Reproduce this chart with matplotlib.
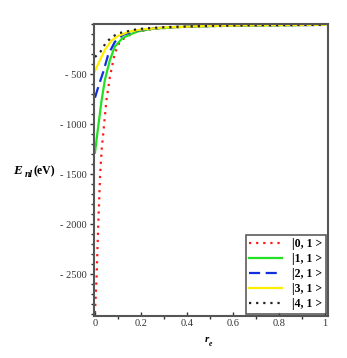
import matplotlib
matplotlib.use("Agg")
import matplotlib.pyplot as plt
from matplotlib.ticker import MultipleLocator

# values (r_e, E_nl in eV)
r_0 = [0.0, 0.007, 0.014, 0.022, 0.029, 0.039, 0.05, 0.065, 0.086, 0.108, 0.136, 0.18, 0.25, 0.35, 0.5, 0.7, 1.0]
e_0 = [-2890, -2527, -2027, -1527, -1260, -1020, -760, -527, -293, -177, -127, -80, -50, -33, -22, -15, -10]

r_1 = [0.0, 0.014, 0.029, 0.043, 0.065, 0.086, 0.12, 0.18, 0.25, 0.35, 0.5, 0.7, 1.0]
e_1 = [-1287, -1027, -760, -560, -360, -227, -140, -77, -48, -32, -21, -14, -9]

r_2 = [0.0, 0.017, 0.036, 0.057, 0.086, 0.12, 0.18, 0.25, 0.35, 0.5, 0.7, 1.0]
e_2 = [-737, -610, -480, -310, -180, -110, -66, -44, -30, -20, -13, -9]

r_3 = [0.0, 0.022, 0.043, 0.07, 0.1, 0.15, 0.2, 0.3, 0.5, 0.7, 1.0]
e_3 = [-470, -360, -260, -170, -120, -75, -55, -35, -19, -13, -8]

r_4 = [0.0, 0.024, 0.046, 0.067, 0.1, 0.136, 0.18, 0.225, 0.3, 0.5, 0.7, 1.0]
e_4 = [-330, -277, -193, -143, -93, -77, -53, -43, -32, -18, -12, -8]

labels = ["|0, 1 >", "|1, 1 >", "|2, 1 >", "|3, 1 >", "|4, 1 >"]
x_ticks = [0, 0.2, 0.4, 0.6, 0.8, 1.0]
x_ticklabels = ["0", "0.2", "0.4", "0.6", "0.8", "1"]
y_ticks = [-2500, -2000, -1500, -1000, -500]
y_ticklabels = ["- 2500", "- 2000", "- 1500", "- 1000", "- 500"]

plt.rcParams["font.family"] = ["Liberation Serif", "DejaVu Serif"]

fig = plt.figure(figsize=(3.47, 3.58), dpi=100)
ax = fig.add_axes([0.271, 0.117, 0.674, 0.816])

ax.plot(r_0, e_0, color="#ff1a1a", linestyle=(0, (1, 2.2)), linewidth=1.6, label=labels[0])
ax.plot(r_1, e_1, color="#22e022", linestyle="-", linewidth=1.6, label=labels[1])
ax.plot(r_2, e_2, color="#1030e0", linestyle=(0, (5, 2.5)), linewidth=1.6, label=labels[2])
ax.plot(r_3, e_3, color="#ffee00", linestyle="-", linewidth=1.6, label=labels[3])
ax.plot(r_4, e_4, color="#222222", linestyle=(0, (1, 2.2)), linewidth=1.6, label=labels[4])

ax.set_xlim(-0.004, 1.012)
ax.set_ylim(-2920, 0)

ax.xaxis.set_minor_locator(MultipleLocator(0.1))
ax.yaxis.set_minor_locator(MultipleLocator(100))
ax.set_xticks(x_ticks)
ax.set_xticklabels(x_ticklabels)
ax.set_yticks(y_ticks)
ax.set_yticklabels(y_ticklabels)

ax.tick_params(axis="both", which="major", labelsize=7.5, length=3, width=1,
               colors="#333333", pad=2)
ax.tick_params(axis="both", which="minor", length=2, width=1, colors="#333333")
ax.tick_params(axis="x", direction="in")

for sp in ax.spines.values():
    sp.set_color("#555555")
    sp.set_linewidth(1.5)

# y label E_nl(eV), drawn horizontally to the left of the tick labels
fig.text(0.038, 0.522, "E", fontsize=9.5, fontweight="bold", style="italic", ha="left", va="center")
fig.text(0.071, 0.512, "nl", fontsize=7, fontweight="bold", style="italic", ha="left", va="center")
fig.text(0.097, 0.522, "(eV)", fontsize=8.5, fontweight="bold", ha="left", va="center")

# x label r_e
fig.text(0.595, 0.052, "r", fontsize=8, fontweight="bold", style="italic", ha="center", va="center")
fig.text(0.607, 0.04, "e", fontsize=5.5, fontweight="bold", style="italic", ha="center", va="center")

leg = ax.legend(loc="lower right", frameon=True, fancybox=False,
                borderaxespad=0.2, handlelength=2.8, handletextpad=0.8,
                labelspacing=0.25, borderpad=0.3,
                prop={"weight": "bold", "size": 8.5})
leg.get_frame().set_edgecolor("#333333")
leg.get_frame().set_linewidth(1.2)

fig.savefig("out.png", dpi=100)
